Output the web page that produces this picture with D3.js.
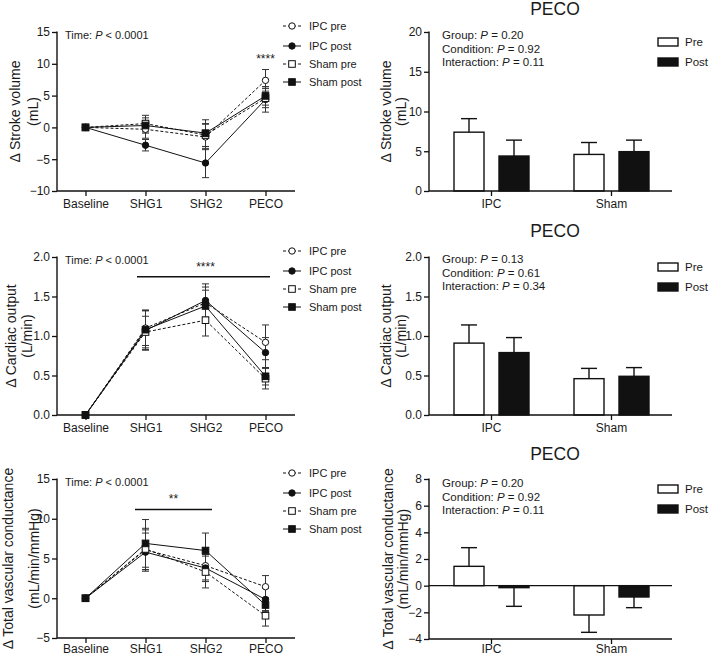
<!DOCTYPE html>
<html><head><meta charset="utf-8">
<script src="https://cdn.jsdelivr.net/npm/d3@7"></script>
<style>
body{margin:0;background:#fff}
svg{display:block}
text{font-family:"Liberation Sans",Arial,Helvetica,sans-serif;fill:#1a1a1a}
</style>
</head><body>
<svg id="c" width="709" height="656"></svg>
<script>
// ---------- DATA ----------
const timepoints = ["Baseline", "SHG1", "SHG2", "PECO"];
const seriesNames = ["IPC pre", "IPC post", "Sham pre", "Sham post"];

// Stroke volume (mL): rows = series, cols = timepoints
const svMeans = [[0, -0.3, -1.5, 7.4], [0, -2.8, -5.6, 4.4], [0, 0.6, -1.2, 4.6], [0, 0.3, -0.9, 4.95]];
const svSems  = [[0, 1.4, 2.0, 1.7], [0, 0.9, 2.3, 2.0], [0, 1.3, 1.8, 1.5], [0, 1.2, 2.1, 1.45]];
// Cardiac output (L/min)
const coMeans = [[0, 1.10, 1.42, 0.92], [0, 1.07, 1.45, 0.79], [0, 1.05, 1.20, 0.46], [0, 1.08, 1.38, 0.49]];
const coSems  = [[0, 0.22, 0.20, 0.22], [0, 0.25, 0.21, 0.19], [0, 0.20, 0.20, 0.13], [0, 0.25, 0.20, 0.11]];
// Total vascular conductance (mL/min/mmHg)
const tvcMeans = [[0, 6.1, 4.1, 1.45], [0, 5.8, 3.8, -0.15], [0, 6.2, 3.3, -2.2], [0, 6.9, 6.0, -0.85]];
const tvcSems  = [[0, 2.5, 1.8, 1.4], [0, 2.4, 1.7, 1.4], [0, 2.6, 2.0, 1.3], [0, 3.0, 2.2, 0.8]];

// PECO bar charts
const groups = ["IPC", "Sham"];
const conditions = ["Pre", "Post"];
const barSvMeans = [[7.4, 4.4], [4.6, 4.95]];
const barSvSems  = [[1.7, 2.0], [1.5, 1.45]];
const barCoMeans = [[0.91, 0.79], [0.46, 0.49]];
const barCoSems  = [[0.23, 0.19], [0.13, 0.11]];
const barTvcMeans = [[1.45, -0.15], [-2.2, -0.85]];
const barTvcSems  = [[1.4, 1.4], [1.3, 0.8]];

// Tick values
const svTicks = [-10, -5, 0, 5, 10, 15];
const coTicks = [0, 0.5, 1.0, 1.5, 2.0];
const tvcTicks = [-5, 0, 5, 10, 15];
const barSvTicks = [0, 5, 10, 15, 20];
const barCoTicks = [0, 0.5, 1.0, 1.5, 2.0];
const barTvcTicks = [-4, -2, 0, 2, 4, 6, 8];

// Statistics text
const timeP = "0.0001";
const svStats = [["Group", "0.20"], ["Condition", "0.92"], ["Interaction", "0.11"]];
const coStats = [["Group", "0.13"], ["Condition", "0.61"], ["Interaction", "0.34"]];
const tvcStats = [["Group", "0.20"], ["Condition", "0.92"], ["Interaction", "0.11"]];

// ---------- DRAW ----------
const svg = d3.select("#c");
const INK = "#111";

function yAxisLabel(g, x1, x2, cy, main, sub) {
  g.append("text").attr("transform", `translate(${x1},${cy}) rotate(-90)`)
    .attr("text-anchor", "middle").attr("dominant-baseline", "central")
    .style("font-size", "14px").text(main);
  g.append("text").attr("transform", `translate(${x2},${cy}) rotate(-90)`)
    .attr("text-anchor", "middle").attr("dominant-baseline", "central")
    .style("font-size", "14px").text(sub);
}

function styleAxis(a) {
  a.selectAll("path.domain").remove();
  a.selectAll(".tick line").attr("stroke", INK).attr("stroke-width", 1.3);
  a.selectAll(".tick text").style("font-size", "12px").attr("fill", "#1a1a1a")
    .style("font-family", '"Liberation Sans",Arial,sans-serif');
}

function linePanel(cfg) {
  const g = svg.append("g");
  const x = d3.scalePoint().domain(timepoints).range([85.5, 265.5]);
  const y = d3.scaleLinear().domain(cfg.domain).range([cfg.bottom, cfg.top]);
  const axX0 = 57, axX1 = 295;

  const ya = g.append("g").attr("transform", `translate(${axX0},0)`)
    .call(d3.axisLeft(y).tickValues(cfg.ticks).tickSize(5).tickPadding(2).tickFormat(cfg.fmt));
  styleAxis(ya);
  const xa = g.append("g").attr("transform", `translate(0,${cfg.bottom})`)
    .call(d3.axisBottom(x).tickSize(5).tickPadding(cfg.xPad));
  styleAxis(xa);
  g.append("line").attr("x1", axX0).attr("x2", axX0).attr("y1", cfg.top - 0.5).attr("y2", cfg.bottom)
    .attr("stroke", INK).attr("stroke-width", 1.4);
  g.append("line").attr("x1", axX0).attr("x2", axX1).attr("y1", cfg.bottom).attr("y2", cfg.bottom)
    .attr("stroke", INK).attr("stroke-width", 1.4);

  yAxisLabel(g, cfg.labX[0], cfg.labX[1], (cfg.top + cfg.bottom) / 2, cfg.label, cfg.sub);

  // Time annotation
  const t = g.append("text").attr("x", 65).attr("y", cfg.top + 3).attr("dominant-baseline", "central")
    .style("font-size", "11px");
  t.append("tspan").text("Time: ");
  t.append("tspan").style("font-style", "italic").text("P");
  t.append("tspan").text(" < " + timeP);

  const pre = i => i % 2 === 0;
  // lines
  cfg.means.forEach((m, i) => {
    const line = d3.line().x((d, j) => x(timepoints[j])).y(d => y(d));
    g.append("path").attr("d", line(m)).attr("fill", "none").attr("stroke", INK)
      .attr("stroke-width", 1).attr("stroke-dasharray", pre(i) ? "3,2" : null);
  });
  // error bars
  cfg.means.forEach((m, i) => {
    m.forEach((v, j) => {
      const s = cfg.sems[i][j];
      if (!s) return;
      const cx = x(timepoints[j]);
      const eg = g.append("g").attr("stroke", "#333").attr("stroke-width", 1);
      eg.append("line").attr("x1", cx).attr("x2", cx).attr("y1", y(v - s)).attr("y2", y(v + s));
      [v - s, v + s].forEach(e => eg.append("line").attr("x1", cx - 3.5).attr("x2", cx + 3.5)
        .attr("y1", y(e)).attr("y2", y(e)));
    });
  });
  // markers
  function marker(sel, i, cx, cy) {
    const fill = pre(i) ? "#fff" : INK;
    if (i < 2) sel.append("circle").attr("cx", cx).attr("cy", cy).attr("r", 3.2)
      .attr("fill", fill).attr("stroke", INK).attr("stroke-width", 1);
    else sel.append("rect").attr("x", cx - 3.3).attr("y", cy - 3.3).attr("width", 6.6).attr("height", 6.6)
      .attr("fill", fill).attr("stroke", INK).attr("stroke-width", 1);
  }
  cfg.means.forEach((m, i) => m.forEach((v, j) => marker(g, i, x(timepoints[j]), y(v))));

  // legend
  const legOff = [-6, 14, 32, 50];
  seriesNames.forEach((n, i) => {
    const ly = cfg.top + legOff[i];
    g.append("line").attr("x1", 283).attr("x2", 301).attr("y1", ly).attr("y2", ly)
      .attr("stroke", INK).attr("stroke-width", 1).attr("stroke-dasharray", pre(i) ? "3,2" : null);
    marker(g, i, 292, ly);
    g.append("text").attr("x", 309).attr("y", ly).attr("dominant-baseline", "central")
      .style("font-size", "11px").text(n);
  });

  // significance
  if (cfg.sigBar) {
    const [a, b, v] = cfg.sigBar;
    g.append("line").attr("x1", a).attr("x2", b).attr("y1", y(v)).attr("y2", y(v))
      .attr("stroke", INK).attr("stroke-width", 1.5);
  }
  g.append("text").attr("x", cfg.sigText[0]).attr("y", y(cfg.sigText[1])).attr("text-anchor", "middle")
    .attr("dominant-baseline", "central").style("font-size", "12px").text(cfg.sigText[2]);
}

function barPanel(cfg) {
  const g = svg.append("g");
  const axX0 = 429, axX1 = 672;
  const x0 = d3.scaleBand().domain(groups).range([431.5, 671.5]);
  const x1 = d3.scaleBand().domain(conditions).range([22.5, 97.5]).paddingInner(1 / 3);
  const y = d3.scaleLinear().domain(cfg.domain).range([cfg.bottom, cfg.top]);

  const ya = g.append("g").attr("transform", `translate(${axX0},0)`)
    .call(d3.axisLeft(y).tickValues(cfg.ticks).tickSize(5).tickPadding(2).tickFormat(cfg.fmt));
  styleAxis(ya);
  const xa = g.append("g").attr("transform", `translate(0,${cfg.bottom})`)
    .call(d3.axisBottom(x0).tickSize(5).tickPadding(cfg.xPad));
  styleAxis(xa);

  // title
  g.append("text").attr("x", 555).attr("y", cfg.titleY).attr("text-anchor", "middle")
    .attr("dominant-baseline", "central").style("font-size", "17.5px").text("PECO");

  yAxisLabel(g, cfg.labX[0], cfg.labX[1], (cfg.top + cfg.bottom) / 2, cfg.label, cfg.sub);

  // bars
  groups.forEach((gr, gi) => {
    conditions.forEach((c, ci) => {
      const v = cfg.means[gi][ci], s = cfg.sems[gi][ci];
      const bx = x0(gr) + x1(c), bw = x1.bandwidth();
      const y0 = y(0), yv = y(v);
      const cx = bx + bw / 2;
      const e = v >= 0 ? v + s : v - s;
      g.append("line").attr("x1", cx).attr("x2", cx).attr("y1", yv).attr("y2", y(e))
        .attr("stroke", INK).attr("stroke-width", 1.4);
      g.append("line").attr("x1", cx - 8).attr("x2", cx + 8).attr("y1", y(e)).attr("y2", y(e))
        .attr("stroke", INK).attr("stroke-width", 1.4);
      g.append("rect").attr("x", bx).attr("width", bw)
        .attr("y", Math.min(y0, yv)).attr("height", Math.max(Math.abs(y0 - yv), 1.2))
        .attr("fill", ci === 0 ? "#fff" : INK).attr("stroke", INK).attr("stroke-width", 1.4);
    });
  });

  g.append("line").attr("x1", axX0).attr("x2", axX0).attr("y1", cfg.top - 0.5).attr("y2", cfg.bottom)
    .attr("stroke", INK).attr("stroke-width", 1.4);
  g.append("line").attr("x1", axX0).attr("x2", axX1).attr("y1", cfg.bottom).attr("y2", cfg.bottom)
    .attr("stroke", INK).attr("stroke-width", 1.4);
  if (cfg.domain[0] < 0) {
    g.append("line").attr("x1", axX0).attr("x2", axX1).attr("y1", y(0)).attr("y2", y(0))
      .attr("stroke", INK).attr("stroke-width", 1.4);
  }

  // stats text
  cfg.stats.forEach((s, i) => {
    const t = g.append("text").attr("x", 442).attr("y", cfg.top + cfg.statOff + i * 13.5)
      .attr("dominant-baseline", "central").style("font-size", "11.5px");
    t.append("tspan").text(s[0] + ": ");
    t.append("tspan").style("font-style", "italic").text("P");
    t.append("tspan").text(" = " + s[1]);
  });

  // legend
  conditions.forEach((c, i) => {
    const ly = cfg.top + 10 + i * 20;
    g.append("rect").attr("x", 658).attr("y", ly - 4).attr("width", 20).attr("height", 8)
      .attr("fill", i === 0 ? "#fff" : INK).attr("stroke", INK).attr("stroke-width", 1.4);
    g.append("text").attr("x", 685).attr("y", ly).attr("dominant-baseline", "central")
      .style("font-size", "11.5px").text(c);
  });
}

const f0 = d3.format("d"), f1 = d3.format(".1f");

// Row 1
linePanel({ top: 32, bottom: 191, domain: [-10, 15], ticks: svTicks, fmt: f0, xPad: 3,
  means: svMeans, sems: svSems, label: "\u0394 Stroke volume", sub: "(mL)", labX: [15, 33],
  sigText: [265.5, 10.7, "****"] });
barPanel({ top: 32, bottom: 191, domain: [0, 20], ticks: barSvTicks, fmt: f0, titleY: 9, xPad: 3,
  means: barSvMeans, sems: barSvSems, label: "\u0394 Stroke volume", sub: "(mL)", labX: [386, 401],
  stats: svStats, statOff: 3 });

// Row 2
linePanel({ top: 257, bottom: 415, domain: [0, 2], ticks: coTicks, fmt: f1, xPad: 3,
  means: coMeans, sems: coSems, label: "\u0394 Cardiac output", sub: "(L/min)", labX: [11, 27],
  sigBar: [137, 270, 1.75], sigText: [205.5, 1.87, "****"] });
barPanel({ top: 257, bottom: 415, domain: [0, 2], ticks: barCoTicks, fmt: f1, titleY: 231, xPad: 3,
  means: barCoMeans, sems: barCoSems, label: "\u0394 Cardiac output", sub: "(L/min)", labX: [386, 401],
  stats: coStats, statOff: 2 });

// Row 3
linePanel({ top: 479, bottom: 638, domain: [-5, 15], ticks: tvcTicks, fmt: f0, xPad: 1,
  means: tvcMeans, sems: tvcSems, label: "\u0394 Total vascular conductance", sub: "(mL/min/mmHg)", labX: [8, 34],
  sigBar: [135, 212, 11.15], sigText: [173.5, 12.5, "**"] });
barPanel({ top: 479, bottom: 639, domain: [-4, 8], ticks: barTvcTicks, fmt: f0, titleY: 454, xPad: 0,
  means: barTvcMeans, sems: barTvcSems, label: "\u0394 Total vascular conductance", sub: "(mL/min/mmHg)", labX: [388, 403],
  stats: tvcStats, statOff: 4 });
</script>
</body></html>
